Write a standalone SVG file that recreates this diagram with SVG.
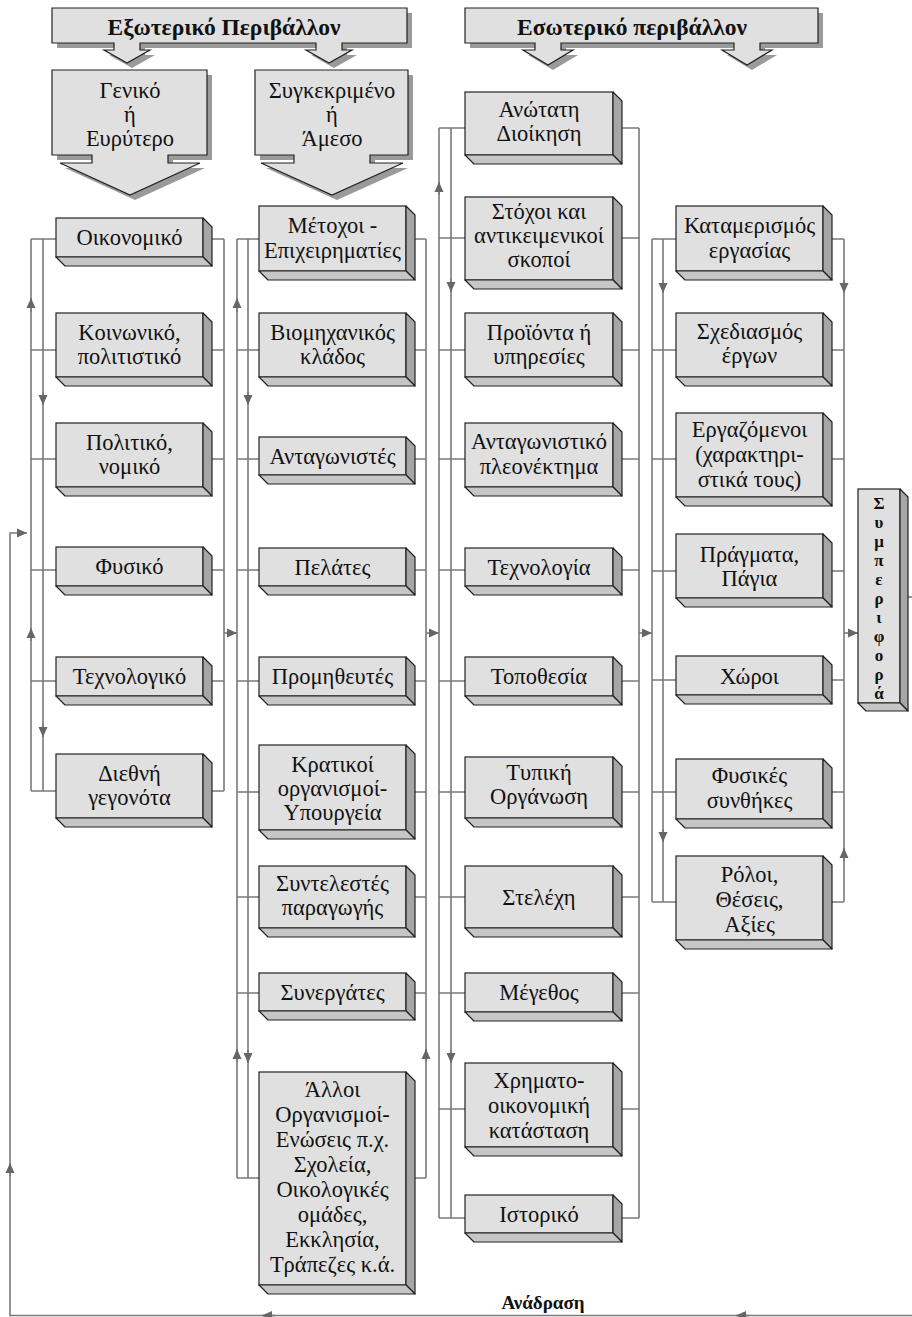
<svg xmlns="http://www.w3.org/2000/svg" width="912" height="1317" viewBox="0 0 912 1317">
<style>
.f{fill:#e0e0e0;stroke:#222;stroke-width:1.2}
.r{fill:#a6a6a6;stroke:#222;stroke-width:1.2;stroke-linejoin:round}
.b{fill:#c6c6c6;stroke:#222;stroke-width:1.2;stroke-linejoin:round}
.sh{fill:#9a9a9a}
.c{stroke:#7a7a7a;stroke-width:1.6;fill:none}
.a{stroke:#7a7a7a;stroke-width:1.6;fill:none;marker-end:url(#ah)}
.t{font-family:"Liberation Serif","DejaVu Serif",serif;font-size:22.5px;fill:#111;text-anchor:middle}
.h{font-family:"Liberation Serif","DejaVu Serif",serif;font-size:23.5px;font-weight:bold;fill:#111;text-anchor:middle}
.v{font-family:"Liberation Serif","DejaVu Serif",serif;font-size:17px;font-weight:bold;fill:#111;text-anchor:middle;writing-mode:vertical-rl;text-orientation:upright}
.fb{font-family:"Liberation Serif","DejaVu Serif",serif;font-size:19px;font-weight:bold;fill:#111;text-anchor:middle}
</style>
<defs>
<marker id="ah" viewBox="0 0 10 10" refX="10" refY="5" markerWidth="10" markerHeight="10" markerUnits="userSpaceOnUse" orient="auto">
<path d="M0,0.5 L10,5 L0,9.5 z" fill="#666"/>
</marker>
</defs>
<rect width="912" height="1317" fill="#fff"/>

<g id="connectors">
<path class="c" d="M31,239 V791 M43,239 V791 M31,239 H56 M31,350 H56 M31,459 H56 M31,570 H56 M31,681 H56 M31,791 H56"/>
<path class="c" d="M203,239 H224 M203,350 H224 M203,459 H224 M203,570 H224 M203,681 H224 M203,791 H224 M224,239 V791"/>
<path class="c" d="M237,239 V1178 M248,239 V1178 M237,239 H259 M237,350 H259 M237,459 H259 M237,570 H259 M237,681 H259 M237,792 H259 M237,897 H259 M237,993 H259 M237,1178 H259"/>
<path class="c" d="M406,239 H426 M406,350 H426 M406,459 H426 M406,570 H426 M406,681 H426 M406,792 H426 M406,897 H426 M406,993 H426 M406,1178 H426 M426,239 V1178"/>
<path class="c" d="M439,128 V1218 M451,128 V1218 M439,128 H465 M439,238 H465 M439,350 H465 M439,459 H465 M439,570 H465 M439,681 H465 M439,792 H465 M439,897 H465 M439,993 H465 M439,1109 H465 M439,1218 H465"/>
<path class="c" d="M613,128 H639 M613,238 H639 M613,350 H639 M613,459 H639 M613,570 H639 M613,681 H639 M613,792 H639 M613,897 H639 M613,993 H639 M613,1109 H639 M613,1218 H639 M639,128 V1218"/>
<path class="c" d="M652,239 V902 M663,239 V902 M652,239 H676 M652,350 H676 M652,459 H676 M652,571 H676 M652,680 H676 M652,792 H676 M652,902 H676"/>
<path class="c" d="M823,239 H844 M823,350 H844 M823,459 H844 M823,571 H844 M823,680 H844 M823,792 H844 M823,902 H844 M844,239 V902"/>
<path class="a" d="M224,633 H237"/>
<path class="a" d="M426,633 H439"/>
<path class="a" d="M639,633 H652"/>
<path class="a" d="M844,633 H858"/>
<path class="a" d="M31,312 V298"/>
<path class="a" d="M43,392 V405"/>
<path class="a" d="M31,641 V628"/>
<path class="a" d="M43,724 V737"/>
<path class="a" d="M237,312 V298"/>
<path class="a" d="M248,392 V405"/>
<path class="a" d="M237,1062 V1049"/>
<path class="a" d="M248,1050 V1063"/>
<path class="a" d="M426,1062 V1049"/>
<path class="a" d="M439,195 V182"/>
<path class="a" d="M451,279 V292"/>
<path class="a" d="M451,1050 V1063"/>
<path class="a" d="M663,280 V293"/>
<path class="a" d="M844,280 V293"/>
<path class="a" d="M663,829 V842"/>
<path class="a" d="M844,861 V848"/>
<path class="c" d="M908,597 H912"/>
<path class="a" d="M912,1315.5 H10 V533 H27"/>
<path class="a" d="M10,1176 V1163"/>
<path class="a" d="M275,1315.5 H262"/>
<path class="a" d="M749,1315.5 H736"/>
</g>

<g id="ext-env">
<path class="sh" transform="translate(5,5)" d="M52,8 H407 V43 H342 V50 H352 L329,63 L306,50 H316 V43 H140 V50 H150 L127,63 L104,50 H114 V43 H52 Z"/>
<path class="f" d="M52,8 H407 V43 H342 V50 H352 L329,63 L306,50 H316 V43 H140 V50 H150 L127,63 L104,50 H114 V43 H52 Z"/>
<text class="h" x="224" y="35">Εξωτερικό  Περιβάλλον</text>
</g>

<g id="int-env">
<path class="sh" transform="translate(5,5)" d="M465,8 H818 V43 H760 V50 H772 L747,65 L722,50 H734 V43 H561 V50 H573 L548,65 L523,50 H535 V43 H465 Z"/>
<path class="f" d="M465,8 H818 V43 H760 V50 H772 L747,65 L722,50 H734 V43 H561 V50 H573 L548,65 L523,50 H535 V43 H465 Z"/>
<text class="h" x="632" y="35">Εσωτερικό περιβάλλον</text>
</g>

<g id="general">
<path class="sh" transform="translate(5,5)" d="M52,70 H207 V155 H168 V163 H200 L130,195 L60,163 H92 V155 H52 Z"/>
<path class="f" d="M52,70 H207 V155 H168 V163 H200 L130,195 L60,163 H92 V155 H52 Z"/>
<text class="t" x="130" y="98">Γενικό</text>
<text class="t" x="130" y="122">ή</text>
<text class="t" x="130" y="146">Ευρύτερο</text>
</g>

<g id="specific">
<path class="sh" transform="translate(5,5)" d="M255,70 H408 V155 H370 V163 H403 L332,195 L261,163 H294 V155 H255 Z"/>
<path class="f" d="M255,70 H408 V155 H370 V163 H403 L332,195 L261,163 H294 V155 H255 Z"/>
<text class="t" x="332" y="98">Συγκεκριμένο</text>
<text class="t" x="332" y="122">ή</text>
<text class="t" x="332" y="146">Άμεσο</text>
</g>

<g id="n-oikonomiko">
<rect class="f" x="56" y="218" width="147" height="39"/>
<polygon class="r" points="203,218 212,227 212,266 203,257"/>
<polygon class="b" points="56,257 203,257 212,266 65,266"/>
<text class="t" x="129.5" y="245">Οικονομικό</text>
</g>
<g id="n-koinoniko">
<rect class="f" x="56" y="313" width="147" height="64"/>
<polygon class="r" points="203,313 212,322 212,386 203,377"/>
<polygon class="b" points="56,377 203,377 212,386 65,386"/>
<text class="t" x="129.5" y="340">Κοινωνικό,</text>
<text class="t" x="129.5" y="364">πολιτιστικό</text>
</g>
<g id="n-politiko">
<rect class="f" x="56" y="423" width="147" height="64"/>
<polygon class="r" points="203,423 212,432 212,496 203,487"/>
<polygon class="b" points="56,487 203,487 212,496 65,496"/>
<text class="t" x="129.5" y="450">Πολιτικό,</text>
<text class="t" x="129.5" y="474">νομικό</text>
</g>
<g id="n-fysiko">
<rect class="f" x="56" y="547" width="147" height="39"/>
<polygon class="r" points="203,547 212,556 212,595 203,586"/>
<polygon class="b" points="56,586 203,586 212,595 65,595"/>
<text class="t" x="129.5" y="574">Φυσικό</text>
</g>
<g id="n-technologiko">
<rect class="f" x="56" y="657" width="147" height="39"/>
<polygon class="r" points="203,657 212,666 212,705 203,696"/>
<polygon class="b" points="56,696 203,696 212,705 65,705"/>
<text class="t" x="129.5" y="684">Τεχνολογικό</text>
</g>
<g id="n-diethni">
<rect class="f" x="56" y="754" width="147" height="64"/>
<polygon class="r" points="203,754 212,763 212,827 203,818"/>
<polygon class="b" points="56,818 203,818 212,827 65,827"/>
<text class="t" x="129.5" y="781">Διεθνή</text>
<text class="t" x="129.5" y="805">γεγονότα</text>
</g>

<g id="n-metochoi">
<rect class="f" x="259" y="206" width="147" height="65"/>
<polygon class="r" points="406,206 415,215 415,280 406,271"/>
<polygon class="b" points="259,271 406,271 415,280 268,280"/>
<text class="t" x="332.5" y="233">Μέτοχοι -</text>
<text class="t" x="332.5" y="258">Επιχειρηματίες</text>
</g>
<g id="n-viomichanikos">
<rect class="f" x="259" y="313" width="147" height="64"/>
<polygon class="r" points="406,313 415,322 415,386 406,377"/>
<polygon class="b" points="259,377 406,377 415,386 268,386"/>
<text class="t" x="332.5" y="340">Βιομηχανικός</text>
<text class="t" x="332.5" y="364">κλάδος</text>
</g>
<g id="n-antagonistes">
<rect class="f" x="259" y="437" width="147" height="38"/>
<polygon class="r" points="406,437 415,446 415,484 406,475"/>
<polygon class="b" points="259,475 406,475 415,484 268,484"/>
<text class="t" x="332.5" y="464">Ανταγωνιστές</text>
</g>
<g id="n-pelates">
<rect class="f" x="259" y="548" width="147" height="38"/>
<polygon class="r" points="406,548 415,557 415,595 406,586"/>
<polygon class="b" points="259,586 406,586 415,595 268,595"/>
<text class="t" x="332.5" y="575">Πελάτες</text>
</g>
<g id="n-promitheftes">
<rect class="f" x="259" y="657" width="147" height="39"/>
<polygon class="r" points="406,657 415,666 415,705 406,696"/>
<polygon class="b" points="259,696 406,696 415,705 268,705"/>
<text class="t" x="332.5" y="684">Προμηθευτές</text>
</g>
<g id="n-kratikoi">
<rect class="f" x="259" y="745" width="147" height="85"/>
<polygon class="r" points="406,745 415,754 415,839 406,830"/>
<polygon class="b" points="259,830 406,830 415,839 268,839"/>
<text class="t" x="332.5" y="772">Κρατικοί</text>
<text class="t" x="332.5" y="796">οργανισμοί-</text>
<text class="t" x="332.5" y="820">Υπουργεία</text>
</g>
<g id="n-syntelestes">
<rect class="f" x="259" y="866" width="147" height="62"/>
<polygon class="r" points="406,866 415,875 415,937 406,928"/>
<polygon class="b" points="259,928 406,928 415,937 268,937"/>
<text class="t" x="332.5" y="891">Συντελεστές</text>
<text class="t" x="332.5" y="915">παραγωγής</text>
</g>
<g id="n-synergates">
<rect class="f" x="259" y="973" width="147" height="38"/>
<polygon class="r" points="406,973 415,982 415,1020 406,1011"/>
<polygon class="b" points="259,1011 406,1011 415,1020 268,1020"/>
<text class="t" x="332.5" y="1000">Συνεργάτες</text>
</g>
<g id="n-alloi">
<rect class="f" x="259" y="1072" width="147" height="213"/>
<polygon class="r" points="406,1072 415,1081 415,1294 406,1285"/>
<polygon class="b" points="259,1285 406,1285 415,1294 268,1294"/>
<text class="t" x="332.5" y="1097">Άλλοι</text>
<text class="t" x="332.5" y="1122">Οργανισμοί-</text>
<text class="t" x="332.5" y="1147">Ενώσεις π.χ.</text>
<text class="t" x="332.5" y="1172">Σχολεία,</text>
<text class="t" x="332.5" y="1197">Οικολογικές</text>
<text class="t" x="332.5" y="1222">ομάδες,</text>
<text class="t" x="332.5" y="1247">Εκκλησία,</text>
<text class="t" x="332.5" y="1272">Τράπεζες κ.ά.</text>
</g>

<g id="n-anotati">
<rect class="f" x="465" y="92" width="148" height="63"/>
<polygon class="r" points="613,92 622,101 622,164 613,155"/>
<polygon class="b" points="465,155 613,155 622,164 474,164"/>
<text class="t" x="539" y="117">Ανώτατη</text>
<text class="t" x="539" y="141">Διοίκηση</text>
</g>
<g id="n-stochoi">
<rect class="f" x="465" y="197" width="148" height="83"/>
<polygon class="r" points="613,197 622,206 622,289 613,280"/>
<polygon class="b" points="465,280 613,280 622,289 474,289"/>
<text class="t" x="539" y="219">Στόχοι  και</text>
<text class="t" x="539" y="243">αντικειμενικοί</text>
<text class="t" x="539" y="267">σκοποί</text>
</g>
<g id="n-proionta">
<rect class="f" x="465" y="313" width="148" height="64"/>
<polygon class="r" points="613,313 622,322 622,386 613,377"/>
<polygon class="b" points="465,377 613,377 622,386 474,386"/>
<text class="t" x="539" y="340">Προϊόντα ή</text>
<text class="t" x="539" y="364">υπηρεσίες</text>
</g>
<g id="n-antagonistiko">
<rect class="f" x="465" y="423" width="148" height="64"/>
<polygon class="r" points="613,423 622,432 622,496 613,487"/>
<polygon class="b" points="465,487 613,487 622,496 474,496"/>
<text class="t" x="539" y="449">Ανταγωνιστικό</text>
<text class="t" x="539" y="474">πλεονέκτημα</text>
</g>
<g id="n-technologia">
<rect class="f" x="465" y="548" width="148" height="38"/>
<polygon class="r" points="613,548 622,557 622,595 613,586"/>
<polygon class="b" points="465,586 613,586 622,595 474,595"/>
<text class="t" x="539" y="575">Τεχνολογία</text>
</g>
<g id="n-topothesia">
<rect class="f" x="465" y="657" width="148" height="39"/>
<polygon class="r" points="613,657 622,666 622,705 613,696"/>
<polygon class="b" points="465,696 613,696 622,705 474,705"/>
<text class="t" x="539" y="684">Τοποθεσία</text>
</g>
<g id="n-typiki">
<rect class="f" x="465" y="757" width="148" height="61"/>
<polygon class="r" points="613,757 622,766 622,827 613,818"/>
<polygon class="b" points="465,818 613,818 622,827 474,827"/>
<text class="t" x="539" y="780">Τυπική</text>
<text class="t" x="539" y="804">Οργάνωση</text>
</g>
<g id="n-stelechi">
<rect class="f" x="465" y="866" width="148" height="62"/>
<polygon class="r" points="613,866 622,875 622,937 613,928"/>
<polygon class="b" points="465,928 613,928 622,937 474,937"/>
<text class="t" x="539" y="905">Στελέχη</text>
</g>
<g id="n-megethos">
<rect class="f" x="465" y="973" width="148" height="39"/>
<polygon class="r" points="613,973 622,982 622,1021 613,1012"/>
<polygon class="b" points="465,1012 613,1012 622,1021 474,1021"/>
<text class="t" x="539" y="1000">Μέγεθος</text>
</g>
<g id="n-chrimato">
<rect class="f" x="465" y="1063" width="148" height="84"/>
<polygon class="r" points="613,1063 622,1072 622,1156 613,1147"/>
<polygon class="b" points="465,1147 613,1147 622,1156 474,1156"/>
<text class="t" x="539" y="1088">Χρηματο-</text>
<text class="t" x="539" y="1113">οικονομική</text>
<text class="t" x="539" y="1138">κατάσταση</text>
</g>
<g id="n-istoriko">
<rect class="f" x="465" y="1195" width="148" height="38"/>
<polygon class="r" points="613,1195 622,1204 622,1242 613,1233"/>
<polygon class="b" points="465,1233 613,1233 622,1242 474,1242"/>
<text class="t" x="539" y="1222">Ιστορικό</text>
</g>

<g id="n-katamerismos">
<rect class="f" x="676" y="206" width="147" height="65"/>
<polygon class="r" points="823,206 832,215 832,280 823,271"/>
<polygon class="b" points="676,271 823,271 832,280 685,280"/>
<text class="t" x="749.5" y="233">Καταμερισμός</text>
<text class="t" x="749.5" y="258">εργασίας</text>
</g>
<g id="n-schediasmos">
<rect class="f" x="676" y="313" width="147" height="64"/>
<polygon class="r" points="823,313 832,322 832,386 823,377"/>
<polygon class="b" points="676,377 823,377 832,386 685,386"/>
<text class="t" x="749.5" y="339">Σχεδιασμός</text>
<text class="t" x="749.5" y="363">έργων</text>
</g>
<g id="n-ergazomenoi">
<rect class="f" x="676" y="413" width="147" height="84"/>
<polygon class="r" points="823,413 832,422 832,506 823,497"/>
<polygon class="b" points="676,497 823,497 832,506 685,506"/>
<text class="t" x="749.5" y="437">Εργαζόμενοι</text>
<text class="t" x="749.5" y="462">(χαρακτηρι-</text>
<text class="t" x="749.5" y="487">στικά  τους)</text>
</g>
<g id="n-pragmata">
<rect class="f" x="676" y="534" width="147" height="64"/>
<polygon class="r" points="823,534 832,543 832,607 823,598"/>
<polygon class="b" points="676,598 823,598 832,607 685,607"/>
<text class="t" x="749.5" y="562">Πράγματα,</text>
<text class="t" x="749.5" y="586">Πάγια</text>
</g>
<g id="n-choroi">
<rect class="f" x="676" y="656" width="147" height="39"/>
<polygon class="r" points="823,656 832,665 832,704 823,695"/>
<polygon class="b" points="676,695 823,695 832,704 685,704"/>
<text class="t" x="749.5" y="684">Χώροι</text>
</g>
<g id="n-fysikes">
<rect class="f" x="676" y="759" width="147" height="60"/>
<polygon class="r" points="823,759 832,768 832,828 823,819"/>
<polygon class="b" points="676,819 823,819 832,828 685,828"/>
<text class="t" x="749.5" y="783">Φυσικές</text>
<text class="t" x="749.5" y="808">συνθήκες</text>
</g>
<g id="n-roloi">
<rect class="f" x="676" y="856" width="147" height="84"/>
<polygon class="r" points="823,856 832,865 832,949 823,940"/>
<polygon class="b" points="676,940 823,940 832,949 685,949"/>
<text class="t" x="749.5" y="882">Ρόλοι,</text>
<text class="t" x="749.5" y="907">Θέσεις,</text>
<text class="t" x="749.5" y="932">Αξίες</text>
</g>

<g id="n-symperifora">
<rect class="f" x="858" y="489" width="42" height="214"/>
<polygon class="r" points="900,489 908,497 908,711 900,703"/>
<polygon class="b" points="858,703 900,703 908,711 866,711"/>
<text class="v" x="879" y="598">Συμπεριφορά</text>
</g>

<text class="fb" x="543" y="1309">Ανάδραση</text>
</svg>
